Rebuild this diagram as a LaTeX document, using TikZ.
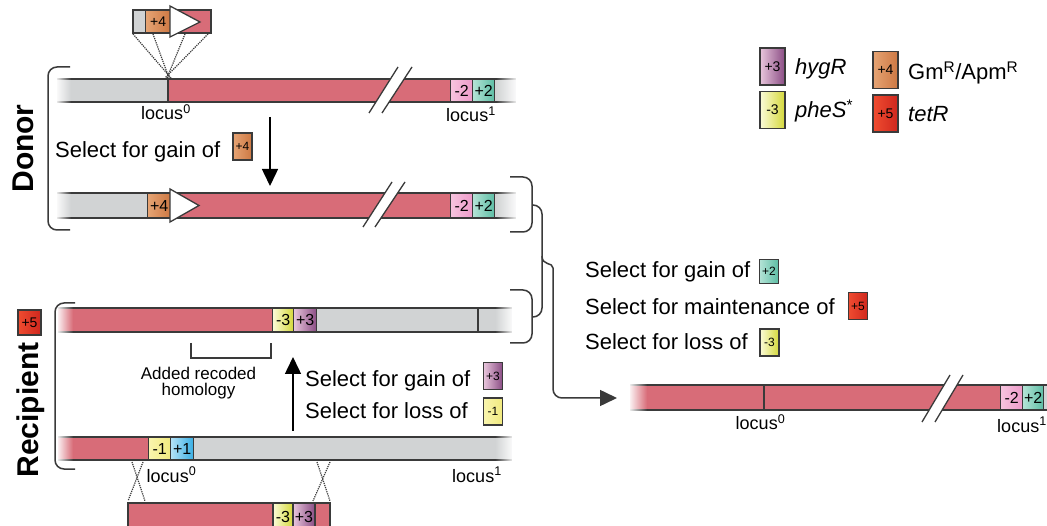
\documentclass[tikz,border=0pt]{standalone}
\usepackage{fontspec}
\setmainfont{Liberation Sans}
\usetikzlibrary{arrows.meta,fadings}
\definecolor{chred}{HTML}{D86C78}
\definecolor{chgrey}{HTML}{D1D3D4}
\definecolor{lnc}{HTML}{3A3A3A}
\definecolor{purL}{HTML}{E8C6DC}\definecolor{purR}{HTML}{8A4C84}
\definecolor{yelL}{HTML}{FBFBD8}\definecolor{yelR}{HTML}{D4D83A}
\definecolor{oraL}{HTML}{E6A474}\definecolor{oraR}{HTML}{CD7843}
\definecolor{redL}{HTML}{EF4C30}\definecolor{redR}{HTML}{CF271E}
\definecolor{teaL}{HTML}{B4E3D6}\definecolor{teaR}{HTML}{5CBDA4}
\definecolor{pnkL}{HTML}{F6C4DE}\definecolor{pnkR}{HTML}{EE9ACA}
\definecolor{ylwL}{HTML}{F9F5AE}\definecolor{ylwR}{HTML}{F1EA7E}
\definecolor{bluL}{HTML}{B4E2F6}\definecolor{bluR}{HTML}{38AEE4}
\tikzfading[name=fadeleft, left color=transparent!0, right color=transparent!100]
\tikzfading[name=faderight, left color=transparent!100, right color=transparent!0]
\tikzset{
  bar/.style={draw=lnc, line width=1.3pt},
  gene/.style={draw=lnc, line width=1.3pt, inner sep=0pt, minimum width=22pt, font=\fontsize{16}{16}\selectfont},
  gtext/.style={inner sep=0pt, font=\fontsize{16}{16}\selectfont},
  sbox/.style={draw=lnc, line width=1.3pt, inner sep=0pt, minimum width=19pt, minimum height=27pt, font=\fontsize{12}{12}\selectfont},
  lbox/.style={draw=lnc, line width=1.3pt, inner sep=0pt, minimum width=25pt, minimum height=37pt, font=\fontsize{14}{14}\selectfont},
  lbl/.style={font=\fontsize{22}{26}\selectfont, anchor=base west, inner sep=0pt},
  locus/.style={font=\fontsize{18}{18}\selectfont, anchor=base, inner sep=0pt},
  brk/.style={draw=lnc, line width=1.3pt},
  brace/.style={draw=lnc, line width=1.5pt, rounded corners=9pt},
  dots/.style={draw=lnc, line width=1.2pt, densely dotted},
  arr/.style={draw=black, line width=1.5pt, -{Triangle[length=17pt,width=16pt]}},
  fl/.style={white, path fading=fadeleft},
  fr/.style={white, path fading=faderight},
  big/.style={font=\fontsize{30}{30}\selectfont\bfseries, rotate=90, anchor=base, inner sep=0pt}
}
\begin{document}
\begin{tikzpicture}[x=1pt,y=-1pt]
\useasboundingbox[fill=white] (0,0) rectangle (1047,526);

% ---------- inset at top ----------
\fill[chgrey] (133,10) rectangle (145,33);
\fill[chred] (170,10) rectangle (211,33);
\node[gene, minimum width=25pt, minimum height=23pt, left color=oraL, right color=oraR, anchor=west, font=\fontsize{14}{14}\selectfont] (i4) at (145,21.5) {+4};
\draw[bar] (133,10) rectangle (211,33);
\draw[bar, fill=white] (170,6) -- (200,22) -- (170,37) -- cycle;
\draw[dots] (133,34) -- (171,78);
\draw[dots] (153,34) -- (169,78);
\draw[dots] (185,34) -- (167,78);
\draw[dots] (208,34) -- (165,78);

% ---------- donor row 1 ----------
\fill[chgrey] (57,79) rectangle (168,102);
\fill[chred] (168,79) rectangle (450,102);
\fill[chgrey] (493,79) rectangle (516,102);
\draw[bar] (57,79) -- (516,79) (57,102) -- (516,102) (168,79) -- (168,102);
\node[gene, minimum height=23pt, left color=pnkL, right color=pnkR, anchor=west] (d1m2) at (450,90.5) {-2};
\node[gene, minimum height=23pt, left color=teaL, right color=teaR, anchor=west] (d1p2) at (472,90.5) {+2};
\fill[fl] (55,76) rectangle (71,105);
\fill[fr] (496,76) rectangle (518,105);
\fill[white] (375,103.6) -- (391.4,77.4) -- (405.1,77.4) -- (388.2,103.6) -- cycle;
\draw[brk] (369,113) -- (398,67);
\draw[brk] (382,113) -- (412,67);
\node[locus] (d1l0) at (166,120) {locus\textsuperscript{0}};
\node[locus] (d1l1) at (471,122) {locus\textsuperscript{1}};

% ---------- donor selection ----------
\node[lbl] (s1) at (55,158) {Select for gain of};
\node[sbox, left color=oraL, right color=oraR] (s1b) at (242.5,146.5) {+4};
\coordinate (da1) at (270,117);
\coordinate (da2) at (270,186);
\draw[arr] (da1) -- (da2);

% ---------- donor row 2 ----------
\fill[chgrey] (57,193) rectangle (147,218);
\fill[chred] (170,193) rectangle (450,218);
\fill[chgrey] (493,193) rectangle (516,218);
\draw[bar] (57,193) -- (516,193) (57,218) -- (516,218);
\node[gene, minimum width=23pt, minimum height=25pt, left color=oraL, right color=oraR, anchor=west] (d2p4) at (147,205.5) {+4};
\draw[bar, fill=white] (170,189) -- (199,205.5) -- (170,222) -- cycle;
\node[gene, minimum height=25pt, left color=pnkL, right color=pnkR, anchor=west] (d2m2) at (450,205.5) {-2};
\node[gene, minimum height=25pt, left color=teaL, right color=teaR, anchor=west] (d2p2) at (472,205.5) {+2};
\fill[fl] (55,190) rectangle (71,221);
\fill[fr] (496,190) rectangle (518,221);
\fill[white] (367.8,219.6) -- (385.9,191.4) -- (398.7,191.4) -- (380,219.6) -- cycle;
\draw[brk] (363,227) -- (392,182);
\draw[brk] (375,227) -- (405,182);

% ---------- donor brackets ----------
\draw[brace] (70,67) -- (48,67) -- (48,230) -- (70,230);
\draw[brace] (510,177) -- (532,177) -- (532,232) -- (510,232);
\node[big] (donor) at (33,148.5) {Donor};

% ---------- recipient row 1 ----------
\node[gene, minimum width=23pt, minimum height=25pt, left color=redL, right color=redR, font=\fontsize{14}{14}\selectfont] (r5) at (29.5,322.5) {+5};
\fill[chred] (58,308) rectangle (272,332);
\fill[chgrey] (316,308) rectangle (512,332);
\draw[bar] (58,308) -- (512,308) (58,332) -- (512,332) (478,308) -- (478,332);
\node[gene, minimum width=21pt, minimum height=24pt, left color=yelL, right color=yelR, anchor=west] (r1m3) at (272,320) {-3};
\node[gene, minimum width=23pt, minimum height=24pt, left color=purL, right color=purR, anchor=west] (r1p3) at (293,320) {+3};
\fill[fl] (56,305) rectangle (73,335);
\fill[fr] (495,305) rectangle (514,335);
\draw[bar] (191,343) -- (191,358) -- (271,358) -- (271,343);
\node[locus, font=\fontsize{17}{17}\selectfont] (arh1) at (198.5,380) {Added recoded};
\node[locus, font=\fontsize{17}{17}\selectfont] (arh2) at (198.5,396) {homology};

% ---------- recipient selection ----------
\coordinate (ua1) at (293,431);
\coordinate (ua2) at (293,357);
\draw[arr] (ua1) -- (ua2);
\node[lbl] (s2) at (305,387) {Select for gain of};
\node[sbox, left color=purL, right color=purR] (s2b) at (493,376) {+3};
\node[lbl] (s3) at (305,418) {Select for loss of};
\node[sbox, left color=ylwL, right color=ylwR] (s3b) at (493,411.5) {-1};

% ---------- recipient row 2 ----------
\fill[chred] (58,437) rectangle (148,460);
\fill[chgrey] (193,437) rectangle (512,460);
\draw[bar] (58,437) -- (512,437) (58,460) -- (512,460);
\node[gene, minimum height=23pt, left color=ylwL, right color=ylwR, anchor=west] (r2m1) at (148,448.5) {-1};
\node[gene, minimum width=23pt, minimum height=23pt, left color=bluL, right color=bluR, anchor=west] (r2p1) at (170,448.5) {+1};
\fill[fl] (56,434) rectangle (73,463);
\fill[fr] (495,434) rectangle (514,463);
\node[locus] (r2l0) at (171.5,482) {locus\textsuperscript{0}};
\node[locus] (r2l1) at (477,482) {locus\textsuperscript{1}};

% ---------- recipient brackets ----------
\draw[brace] (75,303) -- (55,303) -- (55,469) -- (75,469);
\draw[brace] (510,290) -- (532,290) -- (532,343) -- (510,343);
\node[big] (recip) at (38,410) {Recipient};

% ---------- crossover and incoming construct ----------
\draw[dots] (132,462) -- (145,501);
\draw[dots] (143,462) -- (128,501);
\draw[dots] (317,462) -- (330,501);
\draw[dots] (330,462) -- (313,501);
\fill[chred] (128,503) rectangle (330,535);
\shade[left color=yelL, right color=yelR] (273,503) rectangle (293,535);
\shade[left color=purL, right color=purR] (293,503) rectangle (315,535);
\draw[bar] (128,535) -- (128,503) -- (330,503) -- (330,535) (273,503) -- (273,535) (293,503) -- (293,535) (315,503) -- (315,535);
\node[gtext] (cm3) at (283,517) {-3};
\node[gtext] (cp3) at (304,517) {+3};

% ---------- merge connector ----------
\draw[brace] (532,205) -- (542,205) -- (542,317) -- (532,317);
\coordinate (fa) at (617,398);
\draw[arr, draw=lnc, rounded corners=9pt] (542,256) .. controls (542,266) and (553,262) .. (553,277) -- (553,398) -- (fa);

% ---------- right selection ----------
\node[lbl] (s4) at (585,278) {Select for gain of};
\node[sbox, minimum height=24pt, left color=teaL, right color=teaR] (s4b) at (769,271.5) {+2};
\node[lbl] (s5) at (585,315) {Select for maintenance of};
\node[sbox, left color=redL, right color=redR] (s5b) at (858,306) {+5};
\node[lbl] (s6) at (585,350) {Select for loss of};
\node[sbox, left color=yelL, right color=yelR] (s6b) at (769.5,342.5) {-3};

% ---------- final chromosome ----------
\fill[chred] (630,385) rectangle (1000,410);
\fill[chgrey] (1043,385) rectangle (1052,410);
\draw[bar] (630,385) -- (1052,385) (630,410) -- (1052,410) (764,385) -- (764,410);
\node[gene, minimum height=25pt, left color=pnkL, right color=pnkR, anchor=west] (fm2) at (1000,397.5) {-2};
\node[gene, minimum width=21pt, minimum height=25pt, left color=teaL, right color=teaR, anchor=west] (fp2) at (1022,397.5) {+2};
\fill[fl] (628,382) rectangle (647,413);
\fill[white] (928.3,411.6) -- (944.9,383.4) -- (957.9,383.4) -- (941.3,411.6) -- cycle;
\draw[brk] (922,422) -- (950,375);
\draw[brk] (935,422) -- (963,375);
\node[locus] (fl0) at (760.5,430) {locus\textsuperscript{0}};
\node[locus] (fl1) at (1022,432) {locus\textsuperscript{1}};

% ---------- legend ----------
\node[lbox, left color=purL, right color=purR] (lg3) at (772.5,66.5) {+3};
\node[lbox, left color=yelL, right color=yelR] (lgm3) at (772.5,110) {-3};
\node[lbox, left color=oraL, right color=oraR] (lg4) at (885.5,70) {+4};
\node[lbox, left color=redL, right color=redR] (lg5) at (885.5,113.5) {+5};
\node[lbl, font=\fontsize{22}{26}\selectfont\itshape] (lt3) at (795,75) {hygR};
\node[lbl] (ltm3) at (795,118) {\textit{pheS}\textsuperscript{*}};
\node[lbl] (lt4) at (908,80) {Gm\textsuperscript{R}/Apm\textsuperscript{R}};
\node[lbl, font=\fontsize{22}{26}\selectfont\itshape] (lt5) at (908,122) {tetR};
\end{tikzpicture}
\end{document}
